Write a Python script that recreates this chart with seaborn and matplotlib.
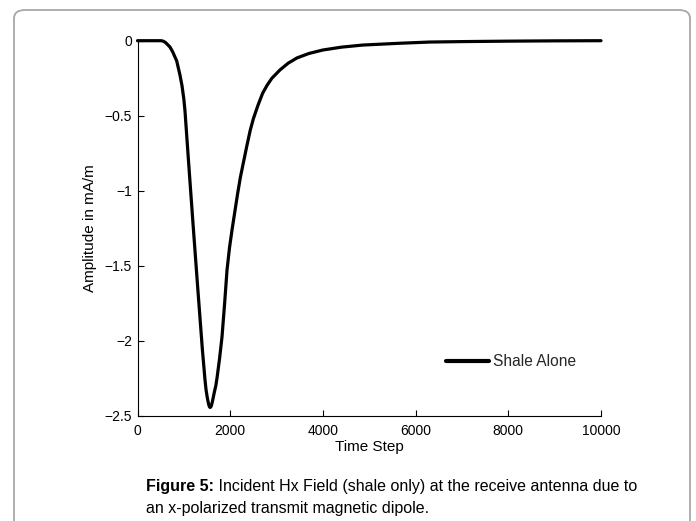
import numpy as np
import pandas as pd
import matplotlib
matplotlib.use("Agg")
import matplotlib.pyplot as plt
import seaborn as sns
from matplotlib.patches import FancyBboxPatch

# ---- data ----
time_step = [0, 300, 500, 530, 560, 600, 630, 700, 760, 846, 917, 960, 1000,
             1025, 1100, 1200, 1300, 1400, 1456, 1480, 1506, 1525, 1540, 1552,
             1564, 1578, 1592, 1605, 1620, 1640, 1660, 1690, 1715, 1770, 1823,
             1880, 1931, 1985, 2040, 2100, 2160, 2220, 2283, 2360, 2430, 2500,
             2600, 2700, 2800, 2900, 3074, 3250, 3440, 3700, 4000, 4400, 4860,
             5660, 6300, 7000, 8000, 9000, 10000]
amplitude = [0, 0, 0, -0.001, -0.004, -0.011, -0.02, -0.042, -0.075, -0.135,
             -0.23, -0.30, -0.39, -0.47, -0.80, -1.23, -1.65, -2.06, -2.26,
             -2.33, -2.38, -2.41, -2.43, -2.44, -2.445, -2.443, -2.435, -2.42,
             -2.40, -2.37, -2.34, -2.30, -2.25, -2.12, -1.975, -1.75, -1.53,
             -1.38, -1.26, -1.14, -1.02, -0.91, -0.815, -0.70, -0.60, -0.52,
             -0.43, -0.35, -0.295, -0.25, -0.195, -0.15, -0.115, -0.085,
             -0.062, -0.043, -0.029, -0.017, -0.009, -0.006, -0.003, -0.001, 0]
series_name = "Shale Alone"
x_ticks = [0, 2000, 4000, 6000, 8000, 10000]
x_tick_labels = ["0", "2000", "4000", "6000", "8000", "10000"]
y_ticks = [0, -0.5, -1, -1.5, -2, -2.5]
y_tick_labels = ["0", "\u22120.5", "\u22121", "\u22121.5", "\u22122", "\u22122.5"]
x_label = "Time Step"
y_label = "Amplitude in mA/m"
caption_bold = "Figure 5:"
caption_line1 = " Incident Hx Field (shale only) at the receive antenna due to"
caption_line2 = "an x-polarized transmit magnetic dipole."

df = pd.DataFrame({"Time Step": time_step, "Amplitude": amplitude,
                   "Series": series_name})

sns.set_theme(style="white")
plt.rcParams["font.family"] = ["Liberation Sans", "DejaVu Sans"]

W, H = 696, 521
fig = plt.figure(figsize=(W / 100, H / 100), dpi=100)
fig.patch.set_facecolor("white")

# rounded frame around the figure
frame = FancyBboxPatch((14 / W, -0.05), (690 - 14) / W, (H - 10) / H + 0.05,
                       boxstyle="round,pad=0,rounding_size=0.016",
                       transform=fig.transFigure, fill=False,
                       edgecolor="#a8a8a8", linewidth=1.3, zorder=0)
fig.patches.append(frame)

ax_left, ax_right = 137.5 / W, 601 / W
ax_top, ax_bottom = 1 - 40.7 / H, 1 - 415.7 / H
ax = fig.add_axes([ax_left, ax_bottom, ax_right - ax_left, ax_top - ax_bottom])
ax.set_facecolor("white")

sns.lineplot(data=df, x="Time Step", y="Amplitude", hue="Series",
             palette=["black"], linewidth=2.3, ax=ax, clip_on=False)
for ln in ax.get_lines():
    ln.set_solid_joinstyle("round")

ax.set_xlim(0, 10000)
ax.set_ylim(-2.5, 0)
ax.set_xticks(x_ticks)
ax.set_xticklabels(x_tick_labels)
ax.set_yticks(y_ticks)
ax.set_yticklabels(y_tick_labels)
ax.tick_params(axis="both", direction="in", length=4, width=0.8,
               labelsize=10, colors="black", pad=4, left=True, bottom=True)
ax.tick_params(axis="x", pad=6)

for s in ["top", "right"]:
    ax.spines[s].set_visible(False)
for s in ["left", "bottom"]:
    ax.spines[s].set_color("black")
    ax.spines[s].set_linewidth(0.8)

ax.set_xlabel(x_label, fontsize=11, color="black", va="center")
ax.set_ylabel(y_label, fontsize=11, color="black", va="center")
ax.xaxis.set_label_coords(0.5, (415.7 - 447) / 375)
ax.yaxis.set_label_coords((90 - 137.5) / 463.5, 0.5)

leg = ax.legend(loc="center left", bbox_to_anchor=((446 - 137.5) / 463.5,
                (415.7 - 362) / 375), frameon=False, fontsize=11.2,
                handlelength=2.75, handletextpad=0.3, borderpad=0,
                borderaxespad=0)
for line in leg.get_lines():
    line.set_linewidth(3)

# caption
fs = 11.5
t1 = fig.text(146 / W, 1 - 487 / H, caption_bold, fontsize=fs,
              fontweight="bold", va="center", ha="left", color="black")
fig.canvas.draw()
r = fig.canvas.get_renderer()
bb = t1.get_window_extent(renderer=r)
fig.text(bb.x1 / W, 1 - 487 / H, caption_line1, fontsize=fs,
         va="center", ha="left", color="black")
fig.text(146 / W, 1 - 508 / H, caption_line2, fontsize=fs,
         va="center", ha="left", color="black")

fig.savefig("out.png", dpi=100, facecolor="white")
